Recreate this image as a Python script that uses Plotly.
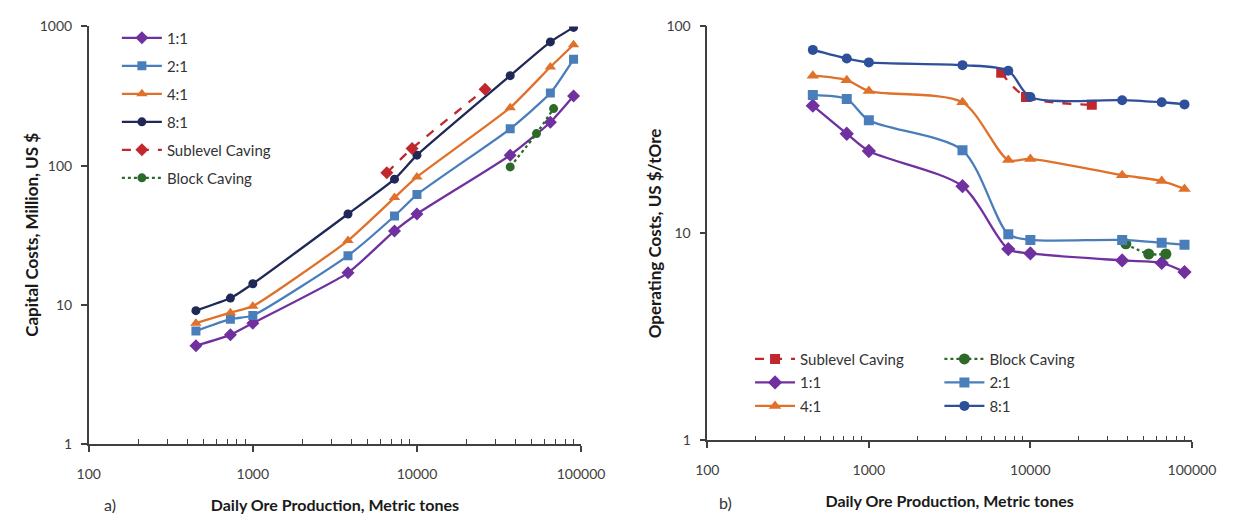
import plotly.graph_objects as go

# ---------------- data ----------------
prod = [450, 730, 1000, 3800, 7300, 10000, 37000, 65000, 90000]

cap_1 = [5.1, 6.1, 7.4, 17, 34, 45, 119, 205, 316]
cap_2 = [6.5, 7.9, 8.4, 22.6, 43.5, 62, 184, 332, 580]
cap_4 = [7.4, 8.8, 9.8, 29, 59, 83, 261, 511, 738]
cap_8 = [9.1, 11.2, 14.2, 45, 80, 119, 443, 774, 984]
cap_slc_x = [6550, 9340, 26000]
cap_slc_y = [89, 133, 354]
cap_bc_x = [37000, 53500, 68000]
cap_bc_y = [98, 170, 257]

op_1 = [41.4, 30.3, 25, 16.9, 8.4, 8.0, 7.4, 7.2, 6.5]
op_2 = [46.6, 44.6, 35.2, 25.2, 9.9, 9.3, 9.3, 9.0, 8.8]
op_4 = [57.8, 55, 48.7, 43, 22.6, 22.9, 19.1, 17.9, 16.4]
op_8 = [77, 70, 67, 65, 61, 45.6, 44, 43, 42]
op_slc_x = [6600, 9400, 24000]
op_slc_y = [59.7, 45.6, 41.8]
op_bc_x = [39000, 54000, 69000]
op_bc_y = [8.9, 7.95, 7.95]

x_ticks = [100, 1000, 10000, 100000]
x_ticktext = ["100", "1000", "10000", "100000"]
cap_ticks = [1, 10, 100, 1000]
op_ticks = [1, 10, 100]

x_title = "<b>Daily Ore Production, Metric tones</b>"
cap_title = "<b>Capital Costs, Million, US $</b>"
op_title = "<b>Operating Costs, US $/tOre</b>"

# ---------------- styles ----------------
PURPLE = "#7030A0"
STEEL = "#4A7EBB"
ORANGE = "#E0712A"
NAVY = "#1F2857"
BLUE8 = "#2E4F9A"
RED = "#C0282D"
GREEN = "#2D6A2A"
FONT = "Lato"
AXC = "#404040"
TXT = "#333333"
TTL = "#1a1a1a"

fig = go.Figure()


def add(x, y, name, color, symbol, xa, ya, legend, group, dash="solid",
        smooth=0.6, msize=9):
    fig.add_trace(go.Scatter(
        x=x, y=y, name=name, mode="lines+markers",
        line=dict(color=color, width=2.3, dash=dash, shape="spline",
                  smoothing=smooth),
        marker=dict(symbol=symbol, size=msize, color=color),
        xaxis=xa, yaxis=ya, legend=legend, legendgroup=group,
    ))


# left chart
add(prod, cap_1, "1:1", PURPLE, "diamond", "x", "y", "legend", "a1", smooth=0.5, msize=10)
add(prod, cap_2, "2:1", STEEL, "square", "x", "y", "legend", "a2", smooth=0.5)
add(prod, cap_4, "4:1", ORANGE, "triangle-up", "x", "y", "legend", "a3", smooth=0.5, msize=10)
add(prod, cap_8, "8:1", NAVY, "circle", "x", "y", "legend", "a4", smooth=0.5)
add(cap_slc_x, cap_slc_y, "Sublevel Caving", RED, "diamond", "x", "y", "legend", "a5",
    dash="dash", smooth=0.5, msize=10)
add(cap_bc_x, cap_bc_y, "Block Caving", GREEN, "circle", "x", "y", "legend", "a6",
    dash="dot", smooth=0.5)

# right chart
add(op_slc_x, op_slc_y, "Sublevel Caving", RED, "square", "x2", "y2", "legend2", "b1",
    dash="dash", smooth=0.8, msize=10)
add(prod, op_1, "1:1", PURPLE, "diamond", "x2", "y2", "legend2", "b2", smooth=0.8, msize=11)
add(prod, op_4, "4:1", ORANGE, "triangle-up", "x2", "y2", "legend2", "b3", smooth=0.8, msize=11)
add(op_bc_x, op_bc_y, "Block Caving", GREEN, "circle", "x2", "y2", "legend3", "c1",
    dash="dot", smooth=0.8, msize=11)
add(prod, op_2, "2:1", STEEL, "square", "x2", "y2", "legend3", "c2", smooth=0.8, msize=10)
add(prod, op_8, "8:1", BLUE8, "circle", "x2", "y2", "legend3", "c3", smooth=0.8, msize=10)

minor_vals = [m * d for d in (100, 1000, 10000) for m in range(2, 10)]

xaxis_common = dict(
    type="log", range=[2, 5], tickmode="array", tickvals=x_ticks,
    ticktext=x_ticktext, showline=True, linecolor=AXC, linewidth=1.5,
    ticks="outside", ticklen=6, tickcolor=AXC, tickwidth=1.5,
    ticklabelstandoff=10,
    showgrid=False, zeroline=False,
    tickfont=dict(family=FONT, size=14, color=AXC),
    minor=dict(tickmode="array", tickvals=minor_vals, ticks="inside",
               ticklen=5, tickcolor=AXC, tickwidth=1, showgrid=False),
    title=dict(text=x_title, font=dict(family=FONT, size=16, color=TTL),
               standoff=19),
)
yaxis_common = dict(
    type="log", tickmode="array", showline=True, linecolor=AXC, linewidth=1.5,
    ticks="outside", ticklen=6, tickcolor=AXC, tickwidth=1.5,
    ticklabelstandoff=6,
    showgrid=False, zeroline=False,
    tickfont=dict(family=FONT, size=14, color=AXC),
)

legend_common = dict(xanchor="left", yanchor="top", bgcolor="rgba(0,0,0,0)",
                     traceorder="grouped", itemwidth=40,
                     font=dict(family=FONT, size=15, color=TXT))

fig.update_layout(
    width=1246, height=517,
    margin=dict(l=0, r=0, t=0, b=0),
    paper_bgcolor="white", plot_bgcolor="white",
    font=dict(family=FONT, color=TXT),
    xaxis=dict(domain=[79 / 1246, 586 / 1246], anchor="y", **xaxis_common),
    yaxis=dict(domain=[67 / 517, 499 / 517], anchor="x", range=[0, 3],
               tickvals=cap_ticks, ticktext=[str(v) for v in cap_ticks],
               **yaxis_common),
    xaxis2=dict(domain=[716 / 1246, 1215 / 1246], anchor="y2", **xaxis_common),
    yaxis2=dict(domain=[71 / 517, 499 / 517], anchor="x2", range=[0, 2],
                tickvals=op_ticks, ticktext=[str(v) for v in op_ticks],
                **yaxis_common),
    legend=dict(x=108 / 1246, y=1 - 13 / 517, tracegroupgap=5.5, **legend_common),
    legend2=dict(x=760 / 1246, y=1 - 345 / 517, tracegroupgap=1, **legend_common),
    legend3=dict(x=955 / 1246, y=1 - 345 / 517, tracegroupgap=1, **legend_common),
    annotations=[
        dict(text=cap_title, textangle=-90, x=20 / 1246, y=1 - 233 / 517,
             xref="paper", yref="paper", xanchor="center", yanchor="middle",
             showarrow=False, font=dict(family=FONT, size=17, color=TTL)),
        dict(text=op_title, textangle=-90, x=661 / 1246, y=1 - 232 / 517,
             xref="paper", yref="paper", xanchor="center", yanchor="middle",
             showarrow=False, font=dict(family=FONT, size=17, color=TTL)),
        dict(text="a)", x=101 / 1246, y=1 - 512 / 517, xref="paper", yref="paper",
             xanchor="center", yanchor="middle",
             showarrow=False, font=dict(family=FONT, size=16, color=TXT)),
        dict(text="b)", x=735 / 1246, y=1 - 510 / 517, xref="paper", yref="paper",
             xanchor="center", yanchor="middle",
             showarrow=False, font=dict(family=FONT, size=16, color=TXT)),
    ],
)

fig.write_html("out.html")
